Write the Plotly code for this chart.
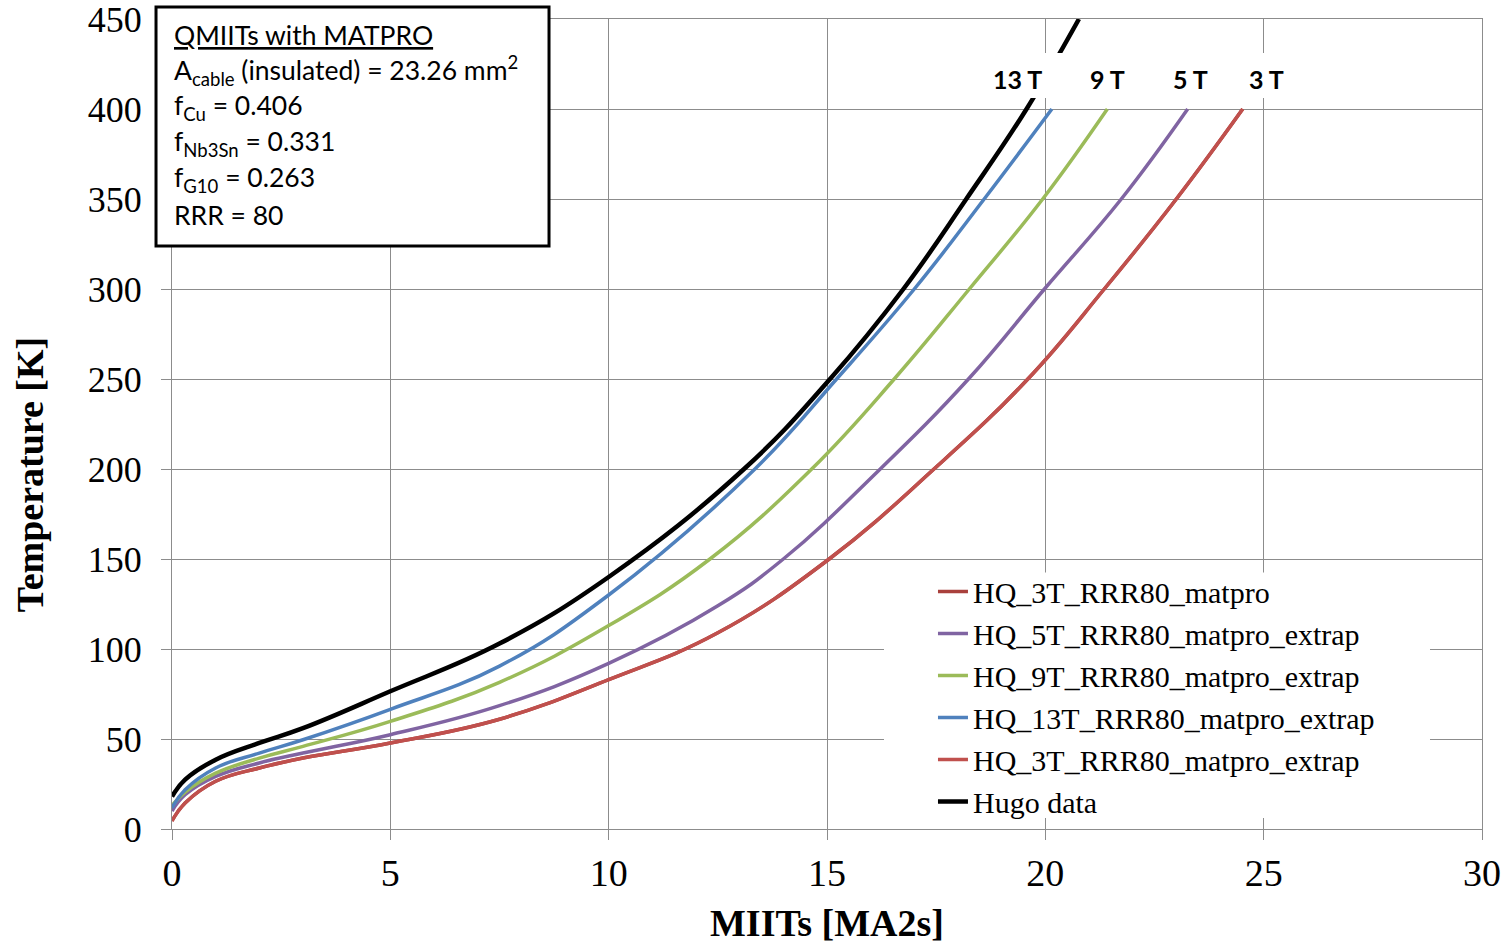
import plotly.graph_objects as go

# ---- data (MIITs [MA2s], Temperature [K]) ----
hugo_x = [0, 0.3, 1, 2, 3, 5, 7.5, 10, 13.1, 15.07, 16.75, 18.19, 19.57, 20.77]
hugo_y = [18, 27.4, 38.5, 47.8, 56, 76.5, 103, 140, 200, 250, 300, 350, 400, 450]

t13_x = [0, 0.3, 1, 2, 3, 5, 7.5, 10, 13.35, 15.22, 17.0, 18.6, 20.15]
t13_y = [11.7, 21.8, 33.9, 42.2, 49.6, 66.5, 90.5, 130, 200, 250, 300, 350, 400]

t9_x = [0, 0.3, 1, 2, 3, 5, 7.5, 10, 12.32, 14.65, 16.54, 18.26, 19.94, 21.42]
t9_y = [13, 20.5, 31, 39.4, 45.9, 59.8, 81.5, 113, 150, 200, 250, 300, 350, 400]

t5_x = [0, 0.3, 1, 2, 3, 5, 7.5, 10, 12.5, 14.0, 16.22, 18.24, 19.98, 21.74, 23.26]
t5_y = [10, 19, 29.2, 36.7, 42.2, 52.4, 68.5, 92, 124, 150, 200, 250, 300, 350, 400]

t3_x = [0, 0.3, 1, 2, 3, 5, 7.5, 10, 12.5, 15.05, 17.45, 19.6, 21.35, 23.0, 24.52]
t3_y = [4.5, 14.4, 26.5, 33.9, 39.4, 47.8, 61, 83, 109, 150, 200, 250, 300, 350, 400]

series = [
    ("HQ_3T_RRR80_matpro", t3_x, t3_y, "#A9403C", 3.5),
    ("HQ_5T_RRR80_matpro_extrap", t5_x, t5_y, "#8064A2", 3.5),
    ("HQ_9T_RRR80_matpro_extrap", t9_x, t9_y, "#9BBB59", 3.5),
    ("HQ_13T_RRR80_matpro_extrap", t13_x, t13_y, "#4F81BD", 3.5),
    ("HQ_3T_RRR80_matpro_extrap", t3_x, t3_y, "#C0504D", 3.5),
    ("Hugo data", hugo_x, hugo_y, "#000000", 4.5),
]

field_labels = ["13 T", "9 T", "5 T", "3 T"]
field_label_x = [0.6454, 0.7145, 0.7775, 0.8357]

info_lines = [
    "<u>QMIITs with MATPRO</u>",
    "A<sub>cable</sub> (insulated) = 23.26 mm<sup>2</sup>",
    "f<sub>Cu</sub> = 0.406",
    "f<sub>Nb3Sn</sub> = 0.331",
    "f<sub>G10</sub> = 0.263",
    "RRR = 80",
]
info_y = [0.980, 0.936, 0.891, 0.847, 0.802, 0.758]

fig = go.Figure()
for name, xs, ys, col, w in series:
    fig.add_trace(go.Scatter(x=xs, y=ys, name=name, mode="lines",
                             line=dict(color=col, width=w, shape="spline", smoothing=1.2)))

serif = "Liberation Serif"
grid = "#8c8c8c"
fig.update_layout(
    width=1510, height=944,
    margin=dict(l=172, r=28, t=19, b=115, autoexpand=False),
    plot_bgcolor="white", paper_bgcolor="white",
    font=dict(family=serif, color="black"),
    xaxis=dict(range=[0, 30], dtick=5, showgrid=True, gridcolor=grid, gridwidth=1,
               showline=True, linecolor=grid, linewidth=1, mirror=True, automargin=False,
               ticks="outside", ticklen=10, tickcolor=grid, zeroline=False,
               tickfont=dict(family=serif, size=38), ticklabeloverflow="allow",
               title=dict(text="<b>MIITs [MA2s]</b>", font=dict(family=serif, size=38), standoff=16)),
    yaxis=dict(range=[0, 450], dtick=50, showgrid=True, gridcolor=grid, gridwidth=1,
               showline=True, linecolor=grid, linewidth=1, mirror=True, automargin=False,
               ticks="outside", ticklen=10, tickcolor=grid, zeroline=False,
               tickfont=dict(family=serif, size=36), ticklabeloverflow="allow",
               ticklabelstandoff=12),
    legend=dict(x=0.5809, y=0.3253, xanchor="left", yanchor="top", bgcolor="rgba(0,0,0,0)",
                font=dict(family=serif, size=30), tracegroupgap=0),
    showlegend=True,
)

# y axis title
fig.add_annotation(text="<b>Temperature [K]</b>", xref="paper", yref="paper", x=-0.1084, y=0.438,
                   xanchor="center", yanchor="middle", textangle=-90, showarrow=False,
                   font=dict(family=serif, size=38, color="black"))

# legend backdrop
fig.add_shape(type="rect", xref="paper", yref="paper", x0=0.5435, x1=0.9603, y0=0.0135, y1=0.3166,
              line=dict(width=0), fillcolor="white", layer="above")

# info box
fig.add_shape(type="rect", xref="paper", yref="paper", x0=-0.0122, x1=0.2878, y0=0.7198, y1=1.0148,
              line=dict(color="black", width=3), fillcolor="white", layer="above")
for txt, yy in zip(info_lines, info_y):
    fig.add_annotation(text=txt, xref="paper", yref="paper", x=0.0, y=yy, xanchor="left", yanchor="middle",
                       showarrow=False, font=dict(family="Lato", size=26.5, color="black"))

# field label strip
fig.add_shape(type="rect", xref="paper", yref="paper", x0=0.6206, x1=0.857, y0=0.9025, y1=0.958,
              line=dict(width=0), fillcolor="white", layer="above")
for txt, xx in zip(field_labels, field_label_x):
    fig.add_annotation(text="<b>%s</b>" % txt, xref="paper", yref="paper", x=xx, y=0.926,
                       xanchor="center", yanchor="middle", showarrow=False,
                       font=dict(family="Lato", size=25, color="black"))

fig.write_html("out.html")
